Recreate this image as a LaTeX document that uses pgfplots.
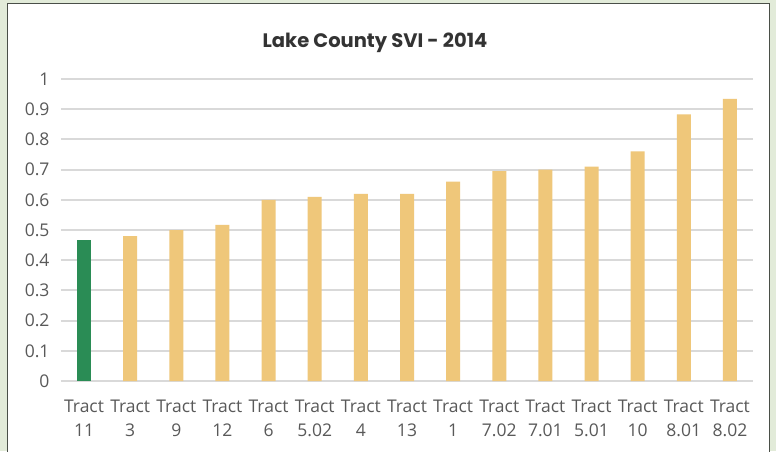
\documentclass[border=0pt]{standalone}
\usepackage{pgfplots}
\pgfplotsset{compat=1.18}
\usepackage{fontspec}
\setmainfont{Open Sans}
\newfontfamily\titlefont{Poppins}

\definecolor{outerbg}{HTML}{E2EBD9}
\definecolor{framecol}{HTML}{4A4F48}
\definecolor{barGold}{HTML}{EFC77A}
\definecolor{barGreen}{HTML}{2A8C55}
\definecolor{gridcol}{HTML}{D9D9D9}
\definecolor{labelcol}{HTML}{595959}

\begin{document}
\begin{tikzpicture}[x=1pt,y=1pt]
% page background and chart frame
\useasboundingbox (0,0) rectangle (776,451);
\fill[outerbg] (0,0) rectangle (776,451);
\filldraw[fill=white, draw=framecol, line width=1.5pt] (7.5,-2) rectangle (769.5,447.5);
\node[font=\titlefont\bfseries\fontsize{19.5}{24}\selectfont, text=black!80] at (375,408) {Lake County SVI - 2014};

\begin{axis}[
    at={(61pt,70pt)}, anchor=south west,
    scale only axis,
    width=692pt, height=302pt,
    xmin=-0.5, xmax=14.5,
    ymin=0, ymax=1,
    ytick={0,0.1,...,1},
    yticklabels={0,0.1,0.2,0.3,0.4,0.5,0.6,0.7,0.8,0.9,1},
    xtick={0,...,14},
    xticklabels={{Tract\\11},{Tract\\3},{Tract\\9},{Tract\\12},{Tract\\6},{Tract\\5.02},{Tract\\4},{Tract\\13},{Tract\\1},{Tract\\7.02},{Tract\\7.01},{Tract\\5.01},{Tract\\10},{Tract\\8.01},{Tract\\8.02}},
    xticklabel style={align=center, font=\fontsize{17.5}{24}\selectfont, text=labelcol, yshift=-15pt},
    yticklabel style={font=\fontsize{17.5}{20}\selectfont, text=labelcol, xshift=-8pt},
    major tick length=0pt,
    axis line style={draw=none},
    ymajorgrids,
    grid style={draw=gridcol, line width=2pt},
    ybar, bar width=14pt, bar shift=0pt,
    clip=false,
]
\addplot[fill=barGreen, draw=none] coordinates {(0,0.467)};
\addplot[fill=barGold, draw=none] coordinates {
(1,0.48) (2,0.50) (3,0.517) (4,0.60) (5,0.61) (6,0.62) (7,0.62)
(8,0.66) (9,0.695) (10,0.70) (11,0.71) (12,0.76) (13,0.883) (14,0.934)};
\end{axis}
\end{tikzpicture}
\end{document}
